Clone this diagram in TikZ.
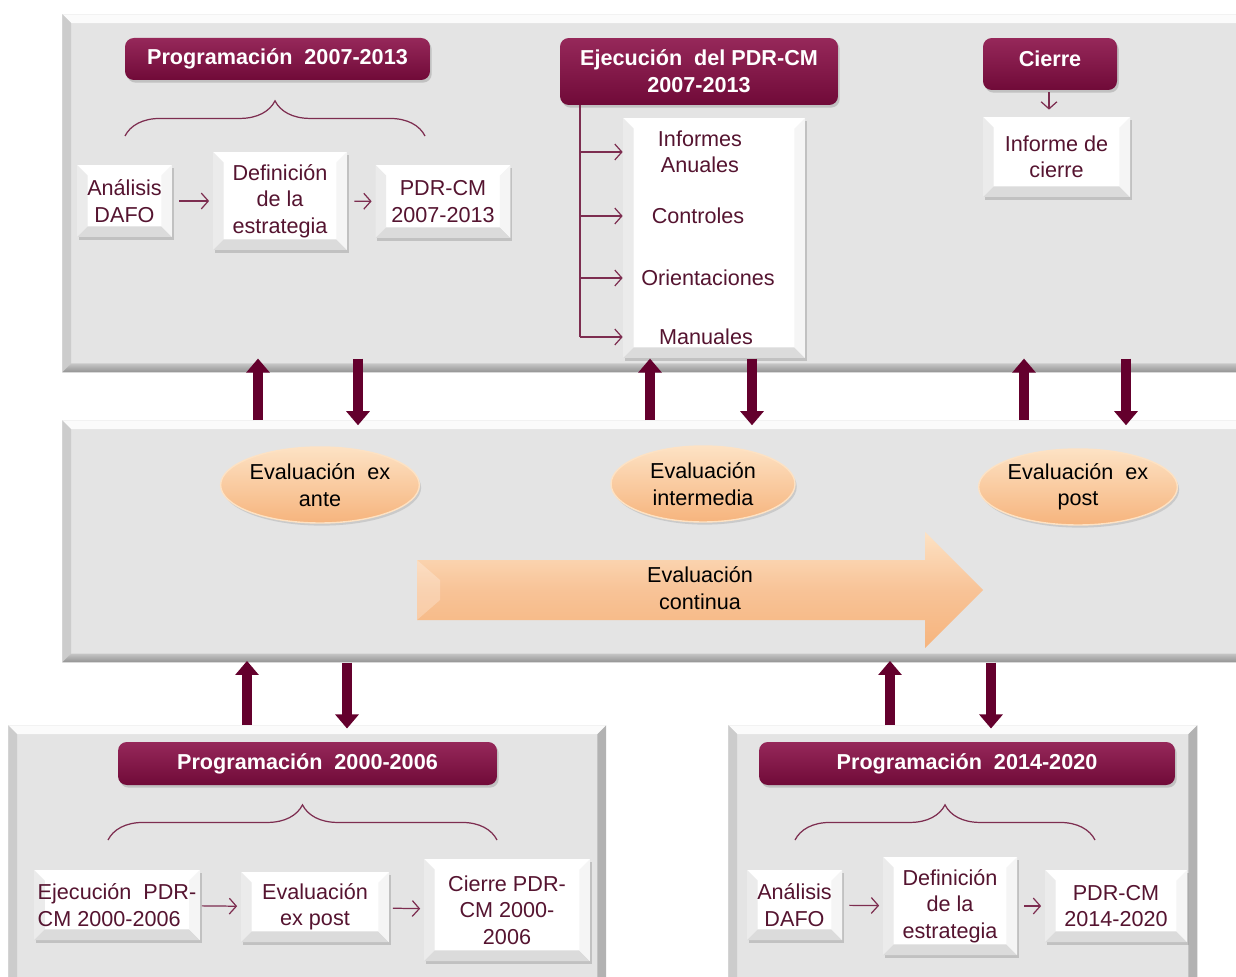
\documentclass[tikz,border=0pt]{standalone}
\usepackage{fontspec}
\setmainfont{Liberation Sans}
\usetikzlibrary{arrows.meta, shapes.geometric, shadows, decorations.pathreplacing}
\definecolor{panelgray}{RGB}{228,228,228}
\definecolor{maroon}{RGB}{112,10,56}
\definecolor{maroonlt}{RGB}{150,40,90}
\definecolor{arrowcol}{RGB}{100,0,45}
\definecolor{linecol}{RGB}{125,45,80}
\definecolor{txtcol}{RGB}{85,20,48}
\definecolor{peach}{RGB}{246,180,125}
\definecolor{peachlt}{RGB}{253,226,196}
\tikzstyle{panel} = [fill=panelgray, inner sep=0pt, anchor=north west, path picture={
    \path (path picture bounding box.south west) coordinate (psw) (path picture bounding box.north east) coordinate (pne)
          (path picture bounding box.north west) coordinate (pnw) (path picture bounding box.south east) coordinate (pse);
    \fill[white!85!panelgray] (pnw) -- (pne) -- ([shift={(-5pt,-5pt)}]pne) -- ([shift={(5pt,-5pt)}]pnw) -- cycle;
    \fill[gray!40] (pnw) -- ([shift={(5pt,-5pt)}]pnw) -- ([shift={(5pt,5pt)}]psw) -- (psw) -- cycle;
    \fill[gray!60] (pse) -- ([shift={(-5pt,5pt)}]pse) -- ([shift={(-5pt,-5pt)}]pne) -- (pne) -- cycle;
    \shade[top color=gray!45, bottom color=gray!85] (psw) -- ([shift={(5pt,5pt)}]psw) -- ([shift={(-5pt,5pt)}]pse) -- (pse) -- cycle;}]
\tikzstyle{wbox} = [fill=white, inner sep=2pt, align=center, text=txtcol, font=\fontsize{12.3}{15}\selectfont,
    drop shadow={opacity=0.35, shadow xshift=1pt, shadow yshift=-1.5pt}, path picture={
    \path (path picture bounding box.south west) coordinate (bsw) (path picture bounding box.north east) coordinate (bne)
          (path picture bounding box.north west) coordinate (bnw) (path picture bounding box.south east) coordinate (bse);
    \fill[gray!16] (bnw) -- ([shift={(6pt,-6pt)}]bnw) -- ([shift={(6pt,6pt)}]bsw) -- (bsw) -- cycle;
    \fill[gray!28] (bsw) -- ([shift={(6pt,6pt)}]bsw) -- ([shift={(-6pt,6pt)}]bse) -- (bse) -- cycle;
    \fill[gray!8] (bse) -- ([shift={(-6pt,6pt)}]bse) -- ([shift={(-6pt,-6pt)}]bne) -- (bne) -- cycle;}]
\tikzstyle{boxtext} = [inner sep=1pt, align=center, text=txtcol, font=\fontsize{12.3}{15}\selectfont]
\tikzstyle{hbox} = [rounded corners=5pt, top color=maroonlt, bottom color=maroon, text=white, align=center,
    font=\bfseries\fontsize{12.3}{15.3}\selectfont, drop shadow={opacity=0.35, shadow xshift=1pt, shadow yshift=-1.5pt}]
\tikzstyle{evalnode} = [ellipse, top color=peachlt, bottom color=peach, draw=peachlt, line width=0.8pt, inner sep=0pt,
    align=center, font=\fontsize{12.3}{15}\selectfont, drop shadow={opacity=0.25, shadow xshift=1pt, shadow yshift=-1.5pt}]
\tikzstyle{thinline} = [draw=linecol, line width=0.7pt]
\tikzstyle{thinarrow} = [draw=linecol, line width=0.7pt, -{Straight Barb[length=4pt, width=9pt]}]
\tikzstyle{bigarrow} = [draw=arrowcol, line width=5.5pt, -{Triangle[length=8pt, width=13pt]}]
\tikzstyle{bracedeco} = [draw=linecol, line width=0.7pt, decorate, decoration={brace, amplitude=20pt}]

\begin{document}
\begin{tikzpicture}[x=0.02cm, y=-0.02cm]
      \useasboundingbox (0,0) rectangle (1236,976);
      \fill[white] (0,0) rectangle (1236,976);
      % panels
      \node[panel, minimum width=23.8cm, minimum height=7.16cm] (top) at (62,14) {};
      \node[panel, minimum width=23.8cm, minimum height=4.84cm] (mid) at (62,420) {};
      \node[panel, minimum width=11.96cm, minimum height=5.3cm] (botl) at (8,725) {};
      \node[panel, minimum width=9.38cm, minimum height=5.3cm] (botr) at (728,725) {};
      % programacion 2007-2013
      \node[hbox, minimum width=6.1cm, minimum height=0.84cm] (prog1) at (277.5,59) {Programación\ \ 2007-2013};
      \draw[bracedeco] (125,136) -- (425,136);
      \node[wbox, minimum width=1.9cm, minimum height=1.44cm] (dafo1) at (124.5,201) {Análisis\\DAFO};
      \node[wbox, minimum width=2.68cm, minimum height=1.96cm] (estr1) at (280,201) {Definición\\de la\\estrategia};
      \node[wbox, minimum width=2.7cm, minimum height=1.46cm] (pdr1) at (443,201.5) {PDR-CM\\2007-2013};
      \draw[thinarrow, shorten <=4pt, shorten >=2pt] (dafo1) -- (estr1);
      \draw[thinarrow, shorten <=4pt, shorten >=2pt] (estr1) -- (pdr1);
      % ejecucion
      \node[hbox, minimum width=5.56cm, minimum height=1.34cm] (ejec) at (699,71.5) {Ejecución\ \ del PDR-CM\\2007-2013};
      \node[wbox, minimum width=3.64cm, minimum height=4.8cm] (exbox) at (714,238) {};
      \node[boxtext] (informes) at (700,152) {Informes\\Anuales};
      \node[boxtext] (controles) at (698,216) {Controles};
      \node[boxtext] (orient) at (708,278) {Orientaciones};
      \node[boxtext] (manuales) at (706,337) {Manuales};
      \draw[thinline] (580,0 |- ejec.south) -- (580,0 |- manuales);
      \draw[thinarrow] (580,0 |- informes) -- (exbox.west |- informes);
      \draw[thinarrow] (580,0 |- controles) -- (exbox.west |- controles);
      \draw[thinarrow] (580,0 |- orient) -- (exbox.west |- orient);
      \draw[thinarrow] (580,0 |- manuales) -- (exbox.west |- manuales);
      % cierre
      \node[hbox, minimum width=2.68cm, minimum height=1.04cm, text depth=6pt] (cierre) at (1050,64) {Cierre};
      \node[wbox, minimum width=2.94cm, minimum height=1.6cm] (informe) at (1056.5,157) {Informe de\\cierre};
      \draw[thinarrow, shorten <=1pt, shorten >=4pt] (cierre.south -| 1049,0) -- (informe.north -| 1049,0);
      % evaluacion
      \node[evalnode, minimum width=3.88cm, minimum height=1.52cm] (ante) at (320,485) {Evaluación\ \ ex\\ante};
      \node[evalnode, minimum width=3.68cm, minimum height=1.52cm] (inter) at (703,484) {Evaluación\\intermedia};
      \node[evalnode, minimum width=3.88cm, minimum height=1.52cm] (post) at (1078,487) {Evaluación\ \ ex\\post};
      \shade[top color=peachlt, bottom color=peach, middle color=peach!80!white]
          (417,560) -- (925,560) -- (925,532) -- (983,590) -- (925,648) -- (925,620) -- (417,620) -- cycle;
      \fill[white, opacity=0.25] (417,560) -- (440,580) -- (440,600) -- (417,620) -- cycle;
      \node[align=center, font=\fontsize{12.3}{15}\selectfont] (continua) at (700,588) {Evaluación\\continua};
      % flechas entre paneles
      \draw[bigarrow, shorten >=-8pt] (258,0 |- mid.north) -- (258,0 |- top.south);
      \draw[bigarrow, shorten <=-8pt, shorten >=-3pt] (358,0 |- top.south) -- (358,0 |- mid.north);
      \draw[bigarrow, shorten >=-8pt] (650,0 |- mid.north) -- (650,0 |- top.south);
      \draw[bigarrow, shorten <=-8pt, shorten >=-3pt] (752,0 |- top.south) -- (752,0 |- mid.north);
      \draw[bigarrow, shorten >=-8pt] (1024,0 |- mid.north) -- (1024,0 |- top.south);
      \draw[bigarrow, shorten <=-8pt, shorten >=-3pt] (1126,0 |- top.south) -- (1126,0 |- mid.north);
      \draw[bigarrow, shorten >=-1pt] (247,0 |- botl.north) -- (247,0 |- mid.south);
      \draw[bigarrow, shorten >=-2pt] (347,0 |- mid.south) -- (347,0 |- botl.north);
      \draw[bigarrow, shorten >=-1pt] (890,0 |- botr.north) -- (890,0 |- mid.south);
      \draw[bigarrow, shorten >=-2pt] (991,0 |- mid.south) -- (991,0 |- botr.north);
      % programacion 2000-2006
      \node[hbox, minimum width=7.58cm, minimum height=0.86cm] (prog0) at (307.5,763.5) {Programación\ \ 2000-2006};
      \draw[bracedeco] (108,840) -- (497,840);
      \node[wbox, minimum width=3.24cm, minimum height=1.4cm, align=left] (ejec0) at (117,905) {Ejecución\ \ PDR-\\CM 2000-2006};
      \node[wbox, minimum width=2.96cm, minimum height=1.4cm] (expost0) at (315,907) {Evaluación\\ex post};
      \node[wbox, minimum width=3.32cm, minimum height=2.04cm] (cierre0) at (507,910) {Cierre PDR-\\CM 2000-\\2006};
      \draw[thinarrow, shorten <=1pt, shorten >=2pt] (ejec0) -- (expost0);
      \draw[thinarrow, shorten <=2pt, shorten >=2pt] (expost0) -- (cierre0);
      % programacion 2014-2020
      \node[hbox, minimum width=8.32cm, minimum height=0.86cm] (prog2) at (967,763.5) {Programación\ \ 2014-2020};
      \draw[bracedeco] (795,840) -- (1095,840);
      \node[wbox, minimum width=1.9cm, minimum height=1.4cm] (dafo2) at (794.5,905) {Análisis\\DAFO};
      \node[wbox, minimum width=2.68cm, minimum height=1.96cm] (estr2) at (950,906) {Definición\\de la\\estrategia};
      \node[wbox, minimum width=2.84cm, minimum height=1.44cm] (pdr2) at (1116,906) {PDR-CM\\2014-2020};
      \draw[thinarrow, shorten <=4pt, shorten >=2pt] (dafo2) -- (estr2);
      \draw[thinarrow, shorten <=4pt, shorten >=2pt] (estr2) -- (pdr2);
    \end{tikzpicture}
\end{document}
